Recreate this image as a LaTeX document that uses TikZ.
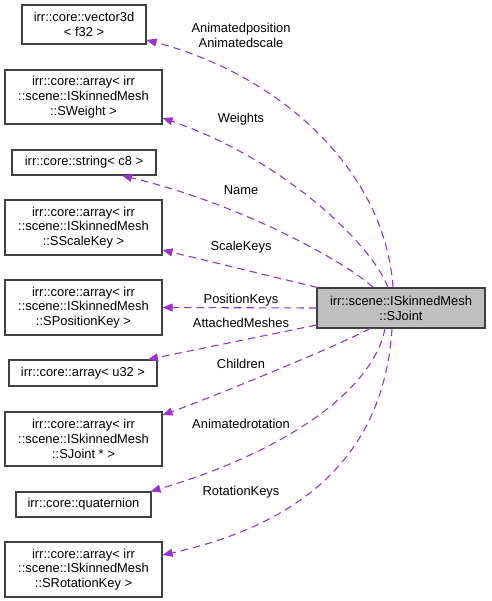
\documentclass[tikz,border=0pt]{standalone}
\usepackage{fontspec}
\setmainfont{Liberation Sans}
\usetikzlibrary{arrows.meta,calc}
\definecolor{mbrpurple}{RGB}{154,50,205}
\definecolor{jointgray}{RGB}{191,191,191}
\definecolor{boxline}{RGB}{64,64,64}

\begin{document}
\begin{tikzpicture}[x=1pt,y=-1pt,>={Triangle[length=10pt,width=8pt]},
  cls/.style={draw=boxline,line width=1.1pt,inner sep=0pt,align=center,
    font=\fontsize{12.9}{14.8}\selectfont},
  mbr/.style={->,mbrpurple,line width=1.1pt,dash pattern=on 7.5pt off 5pt},
  lbl/.style={inner sep=0pt,align=center,font=\fontsize{12.9}{14.8}\selectfont}]

\useasboundingbox (0,0) rectangle (491,601);

% member classes
\node[cls,minimum width=124pt,minimum height=39pt] (v3) at (84,24.5) {irr::core::vector3d\\< f32 >};
\node[cls,minimum width=157pt,minimum height=54pt] (sw) at (83.5,97) {irr::core::array< irr\\::scene::ISkinnedMesh\\::SWeight >};
\node[cls,minimum width=144pt,minimum height=25pt] (str) at (84,162.5) {irr::core::string< c8 >};
\node[cls,minimum width=157pt,minimum height=55pt] (ssk) at (83.5,227.5) {irr::core::array< irr\\::scene::ISkinnedMesh\\::SScaleKey >};
\node[cls,minimum width=157pt,minimum height=55pt] (spk) at (83.5,307.5) {irr::core::array< irr\\::scene::ISkinnedMesh\\::SPositionKey >};
\node[cls,minimum width=148pt,minimum height=26pt] (u32) at (83,373) {irr::core::array< u32 >};
\node[cls,minimum width=157pt,minimum height=54pt] (sjt) at (83.5,439) {irr::core::array< irr\\::scene::ISkinnedMesh\\::SJoint * >};
\node[cls,minimum width=135pt,minimum height=25pt] (quat) at (83.5,504.5) {irr::core::quaternion};
\node[cls,minimum width=157pt,minimum height=55pt] (srk) at (83.5,569.5) {irr::core::array< irr\\::scene::ISkinnedMesh\\::SRotationKey >};

% the joint itself
\node[cls,fill=jointgray,minimum width=168pt,minimum height=40pt] (sj) at (401,308) {irr::scene::ISkinnedMesh\\::SJoint};

% connectors
\draw[mbr] ([xshift=-8pt]sj.north) .. controls (385,170) and (280,75) .. ([yshift=-15.5pt]v3.east);
\draw[mbr] ([xshift=-13pt]sj.north) .. controls (372,245) and (285,160) .. ([yshift=-21pt]sw.east);
\draw[mbr] ([xshift=-28pt]sj.north) .. controls (350,265) and (245,205) .. ([xshift=38pt]str.south);
\draw[mbr] ([xshift=1pt]sj.north west) -- ([yshift=-22.5pt]ssk.east);
\draw[mbr] (sj.west) -- (spk.east);
\draw[mbr] ([yshift=-17pt]sj.west) -- ([xshift=65pt]u32.north);
\draw[mbr] ([xshift=-31pt]sj.south) .. controls (340,345) and (210,398) .. ([yshift=24pt]sjt.east);
\draw[mbr] ([xshift=-16pt]sj.south) .. controls (372,395) and (275,455) .. ([xshift=-1pt]quat.north east);
\draw[mbr] ([xshift=-9pt]sj.south) .. controls (385,440) and (320,520) .. ([yshift=14.5pt]srk.east);

% member names
\node[lbl] (lanim) at (241,35.5) {Animatedposition\\Animatedscale};
\node[lbl] (lwts) at (241,119) {Weights};
\node[lbl] (lname) at (241,190) {Name};
\node[lbl] (lscl) at (241,247) {ScaleKeys};
\node[lbl] (lpos) at (241,300) {PositionKeys};
\node[lbl] (latt) at (241,323) {AttachedMeshes};
\node[lbl] (lchld) at (241,364) {Children};
\node[lbl] (lrot) at (241,424) {Animatedrotation};
\node[lbl] (lrotk) at (241,492) {RotationKeys};

\end{tikzpicture}
\end{document}
